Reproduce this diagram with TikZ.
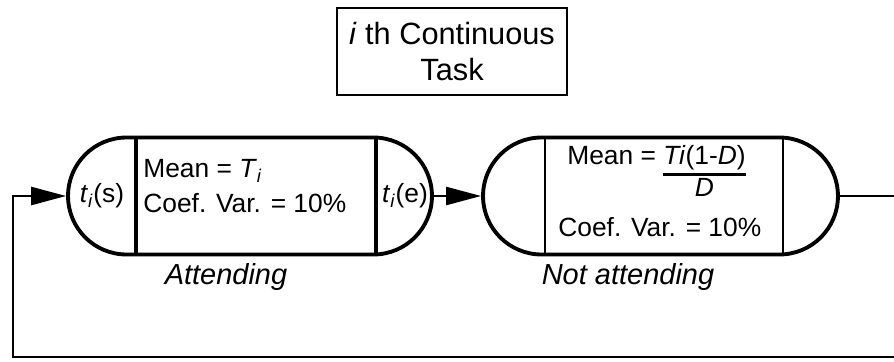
\documentclass[tikz,border=0pt]{standalone}
\usepackage{fontspec}
\setmainfont{Liberation Sans}
\usetikzlibrary{shapes.misc,arrows.meta,positioning}

\begin{document}
\begin{tikzpicture}[x=0.02cm, y=-0.02cm,
    pill/.style={draw, rounded rectangle, line width=2.2pt, minimum height=2.34cm, inner sep=0pt},
    wire/.style={line width=1.4pt},
    head/.style={-{Triangle[length=0.7cm, width=0.36cm]}},
    txt/.style={inner sep=0pt, font=\fontsize{15}{17}\selectfont},
    lbl/.style={inner sep=0pt, font=\fontsize{16.5}{18}\selectfont\itshape}]
    \useasboundingbox (0,0) rectangle (894,362);

    \node[draw, line width=1.5pt, minimum width=4.6cm, minimum height=1.74cm, align=center,
      font=\fontsize{17.5}{21}\selectfont] (TITLE) at (452,51.5) {\textit{i} th Continuous\\Task};

    % the two states
    \node[pill, minimum width=7.28cm] (ATT) at (250,196) {};
    \node[pill, minimum width=7.1cm] (NOTATT) at (660.5,196) {};
    \draw[line width=2pt] (136,0 |- ATT.north) -- (136,0 |- ATT.south);
    \draw[line width=2pt] (376,0 |- ATT.north) -- (376,0 |- ATT.south);
    \draw[line width=1.2pt] (545,0 |- NOTATT.north) -- (545,0 |- NOTATT.south);
    \draw[line width=1.2pt] (783,0 |- NOTATT.north) -- (783,0 |- NOTATT.south);

    \node[txt] (TS) at (102,196) {\textit{t}\textsubscript{\textit{i}}(s)};
    \node[txt] (TE) at (405,196) {\textit{t}\textsubscript{\textit{i}}(e)};
    \node[txt, anchor=west] (MEAN1) at (143,171) {Mean = \textit{T}\textsubscript{\textit{i}}};
    \node[txt, anchor=west] (VAR1) at (143,203) {Coef. Var. = 10\%};

    \node[txt, anchor=base west] (MEAN2) at (567,164) {Mean = \setlength{\arrayrulewidth}{1.5pt}%
      \begin{tabular}[t]{@{}c@{}}\textit{Ti}(1-\textit{D})\\\hline\textit{D}\end{tabular}};
    \node[txt, anchor=west] (VAR2) at (558,227) {Coef. Var. = 10\%};

    \node[lbl] (LBL1) at (226,277) {Attending};
    \node[lbl] (LBL2) at (628,277) {Not attending};

    % loop back
    \coordinate (RIGHTOUT) at (894,196);
    \coordinate (BOTRIGHT) at (894,357);
    \coordinate (BOTLEFT) at (13,357);
    \draw[wire, head] (ATT.east) -- (NOTATT.west);
    \draw[wire] (NOTATT.east) -- (RIGHTOUT);
    \draw[wire, head] (BOTRIGHT) -- (BOTLEFT) |- (ATT.west);
\end{tikzpicture}
\end{document}
